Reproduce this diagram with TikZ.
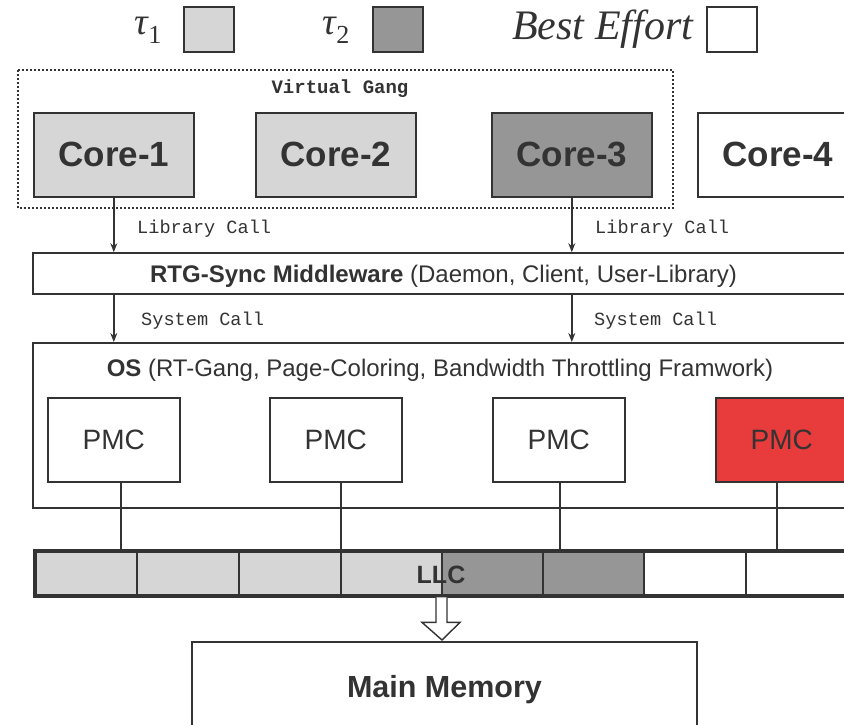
\documentclass[tikz,border=0pt]{standalone}
\usepackage{fontspec}
\setmainfont{Liberation Sans}
\setmonofont{Liberation Mono}
\newfontfamily\serifit{Liberation Serif}
\usetikzlibrary{arrows.meta}
\definecolor{lg}{HTML}{D6D6D6}
\definecolor{dg}{HTML}{969696}
\definecolor{pmcred}{HTML}{E83B3B}
\definecolor{ln}{HTML}{333333}
\newcommand{\legtau}[1]{{\serifit\fontsize{38}{38}\selectfont\itshape τ\kern0.5pt\raisebox{-9pt}{\upshape\fontsize{26}{26}\selectfont #1}}}
\begin{document}
\begin{tikzpicture}[x=1pt,y=-1pt,
  box/.style={draw=ln, line width=1.6pt, inner sep=0pt, text=ln},
  legbox/.style={draw=ln, line width=2.2pt, inner sep=0pt, minimum width=50pt, minimum height=45pt, anchor=north west},
  corebox/.style={box, minimum width=160pt, minimum height=84pt, anchor=north west, font=\fontsize{35}{35}\selectfont\bfseries},
  pmcbox/.style={box, minimum width=132pt, minimum height=84pt, anchor=north west, font=\fontsize{28}{28}\selectfont},
  callarrow/.style={draw=ln, line width=1.4pt, -{Stealth[length=9pt,width=7pt]}},
  calltext/.style={font=\fontsize{18.6}{18.6}\selectfont\ttfamily, text=ln, anchor=west, inner sep=0pt},
  wire/.style={draw=ln, line width=1.4pt},
  cell/.style={inner sep=0pt, minimum height=45pt, anchor=north west, minimum width=102pt}
]
\useasboundingbox (0,0) rectangle (844,725);
\clip (0,0) rectangle (844,725);
\fill[white] (0,0) rectangle (844,725);

% legend
\node[inner sep=0pt, anchor=base west, text=ln] (t1) at (134,35) {\legtau{1}};
\node[legbox, fill=lg] (lg1) at (183,6) {};
\node[inner sep=0pt, anchor=base west, text=ln] (t2) at (322,35) {\legtau{2}};
\node[legbox, fill=dg] (lg2) at (372,6) {};
\node[inner sep=0pt, anchor=base west, text=ln] (be) at (512,40) {\fontsize{42}{42}\selectfont\serifit\itshape Best Effort};
\node[legbox, fill=white] (lg3) at (706,6) {};

% virtual gang
\draw[ln, line width=1.5pt, dash pattern=on 2pt off 2pt] (18,70) rectangle (673,208);
\node[font=\fontsize{19}{19}\selectfont\ttfamily\bfseries, text=ln, inner sep=0pt] (vg) at (340,89) {Virtual Gang};

% cores
\node[corebox, fill=lg] (c1) at (33,112) {Core-1};
\node[corebox, fill=lg] (c2) at (255,112) {Core-2};
\node[corebox, fill=dg] (c3) at (491,112) {Core-3};
\node[corebox, fill=white] (c4) at (697,112) {Core-4};

% middleware
\node[box, minimum width=821pt, minimum height=41pt, text depth=0pt, font=\fontsize{24}{24}\selectfont] (mw) at (443.5,273.5)
  {\textbf{RTG-Sync Middleware} (Daemon, Client, User-Library)};

\draw[callarrow] (c1.south) -- (c1.south |- mw.north);
\draw[callarrow] (c3.south) -- (c3.south |- mw.north);
\node[calltext] (lc1) at (137,229) {Library Call};
\node[calltext] (lc2) at (595,229) {Library Call};

% OS
\node[box, minimum width=830pt, minimum height=165pt, anchor=north west] (os) at (32,342) {};
\node[font=\fontsize{24}{24}\selectfont, text=ln, inner sep=0pt, text depth=0pt] (ost) at (440,368)
  {\textbf{OS} (RT-Gang, Page-Coloring, Bandwidth Throttling Framwork)};

\draw[callarrow] (c1.south |- mw.south) -- (c1.south |- os.north);
\draw[callarrow] (c3.south |- mw.south) -- (c3.south |- os.north);
\node[calltext] (sc1) at (141,321) {System Call};
\node[calltext] (sc2) at (594,321) {System Call};

% PMC
\node[pmcbox, fill=white] (p1) at (47,397) {PMC};
\node[pmcbox, fill=white] (p2) at (269,397) {PMC};
\node[pmcbox, fill=white] (p3) at (492,397) {PMC};
\node[pmcbox, fill=pmcred] (p4) at (715,397) {PMC};

% LLC cells
\node[cell, fill=lg] (l1) at (35,551) {};
\node[cell, fill=lg] (l2) at (137,551) {};
\node[cell, fill=lg] (l3) at (239,551) {};
\node[cell, fill=lg] (l4) at (341,551) {};
\node[cell, fill=dg] (l5) at (442,551) {};
\node[cell, fill=dg] (l6) at (543,551) {};
\node[cell, fill=white] (l7) at (644,551) {};
\node[cell, fill=white] (l8) at (746,551) {};
\node[font=\fontsize{25}{25}\selectfont\bfseries, text=ln, inner sep=0pt] (llct) at (441,575) {LLC};
\foreach \c in {l2,l3,l4,l5,l6,l7,l8}
  \draw[ln, line width=2.4pt] (\c.north west) -- (\c.south west);
\draw[ln, line width=4pt] (l1.north west) rectangle (860,596);

% PMC wires
\draw[wire] ([xshift=7pt]p1.south) -- ([xshift=7pt]p1.south |- l1.north);
\draw[wire] ([xshift=5pt]p2.south) -- ([xshift=5pt]p2.south |- l1.north);
\draw[wire] ([xshift=1pt]p3.south) -- ([xshift=1pt]p3.south |- l1.north);
\draw[wire] ([xshift=-5pt]p4.south) -- ([xshift=-5pt]p4.south |- l1.north);

% main memory
\node[box, minimum width=505pt, minimum height=96pt, anchor=north, font=\fontsize{30.5}{30.5}\selectfont\bfseries] (mm) at (444.5,641) {Main Memory};

% hollow arrow
\coordinate (ha) at (l5.south west);
\draw[ln, line width=1.4pt, fill=white, line join=miter]
  ([xshift=-6pt,yshift=-1pt]ha) -- ([xshift=-6pt,yshift=-26pt]ha) -- ([xshift=-20pt,yshift=-26pt]ha)
  -- ([yshift=1pt]ha |- mm.north) -- ([xshift=18pt,yshift=-26pt]ha) -- ([xshift=5pt,yshift=-26pt]ha) -- ([xshift=5pt,yshift=-1pt]ha);
\end{tikzpicture}
\end{document}
